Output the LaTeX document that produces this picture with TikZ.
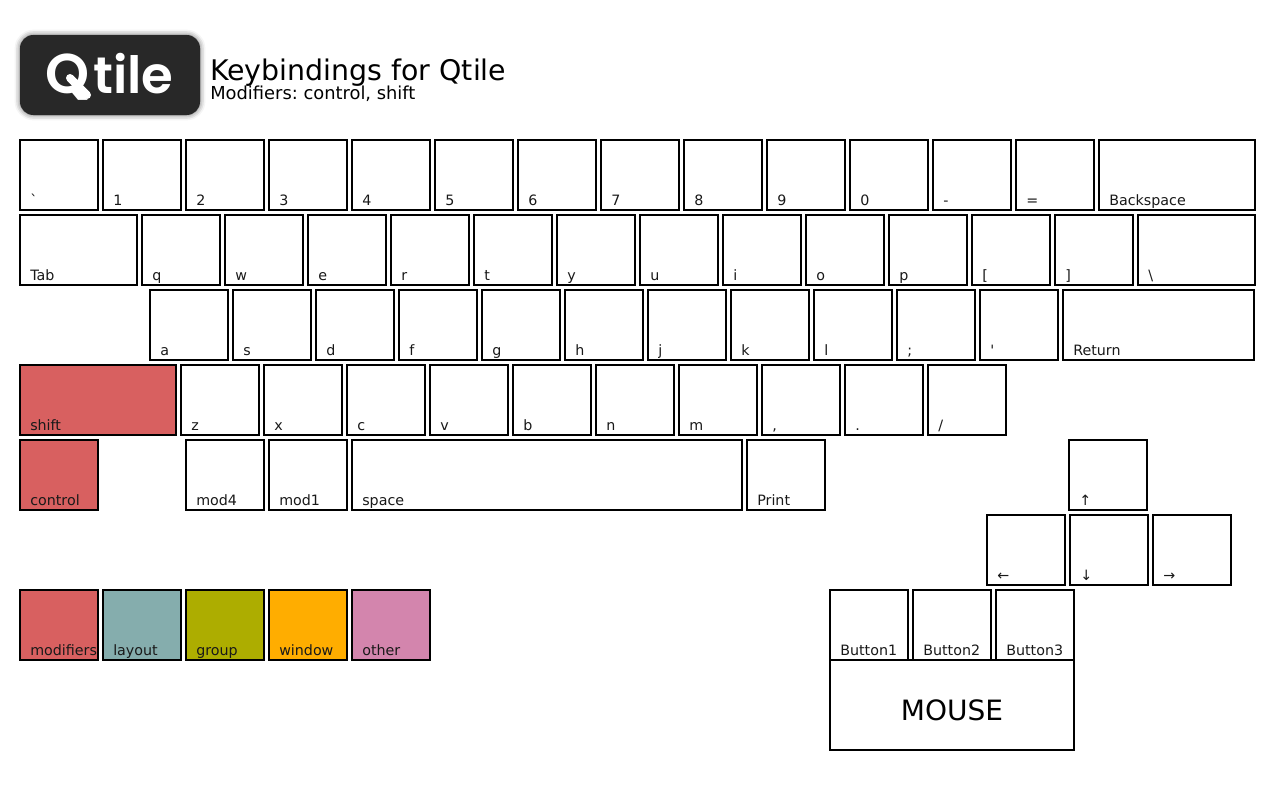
\documentclass[tikz,border=0pt]{standalone}
\usepackage{fontspec}
\setmainfont{DejaVu Sans}
\newfontfamily\rawfont{DejaVu Sans}
\newfontfamily\logofont{Poppins SemiBold}
\usetikzlibrary{shadows.blur}
\frenchspacing

\definecolor{modcol}{HTML}{D86060}
\definecolor{laycol}{HTML}{85ADAD}
\definecolor{grpcol}{HTML}{ADAD00}
\definecolor{wincol}{HTML}{FFAD00}
\definecolor{othcol}{HTML}{D385AD}
\definecolor{logocol}{HTML}{282828}

\tikzset{
    keybox/.style={draw=black, line width=1.5pt, rectangle, inner sep=0pt, outer sep=0pt, minimum height=52.5pt},
    keylabel/.style={anchor=base west, inner sep=0pt, font=\fontsize{10.7}{11}\selectfont, text=black!90},
}

% key: name, left edge, top edge, width in px, text, fill
\newcommand{\keynode}[6]{%
    \node[keybox, fill=#6, minimum width=#4*0.75pt, anchor=north west] (#1) at (#2,#3) {};
    \node[keylabel] (#1text) at ([xshift=7.5pt,yshift=3.6pt]#1.south west) {#5};
}

\begin{document}
\begin{tikzpicture}[x=0.75pt,y=-0.75pt]
    \useasboundingbox (0,0) rectangle (1280,800);

    % logo
    \node[rectangle, rounded corners=10pt, fill=logocol, minimum width=135pt, minimum height=60pt, inner sep=0pt, outer sep=0pt, anchor=north west,
        blur shadow={shadow xshift=0pt, shadow yshift=0pt, shadow blur radius=4pt, shadow opacity=60}] (logo) at (20,35) {};
    \node[anchor=base west, inner sep=0pt, text=white, font=\logofont] (logotext) at (45,93)
        {\fontsize{42}{42}\selectfont Q\kern3pt\fontsize{38.5}{42}\selectfont tile};
    \coordinate (tailstart) at (70,78);
    \coordinate (tailend) at (87,95);
    \draw[white, line width=6pt, line cap=round] (tailstart) -- (tailend);

    % title
    \node[anchor=base west, inner sep=0pt, font=\fontsize{21.3}{24}\selectfont] (title) at (210,80) {Keybindings for Qtile};
    \node[anchor=base west, inner sep=0pt, font=\fontsize{13.4}{16}\selectfont] (subtitle) at (210,99) {Modifiers: control, shift};

    % first row
    \keynode{grave}{20}{140}{78}{{\rawfont\symbol{96}}}{white}
    \foreach \name [count=\i from 0] in {1,2,3,4,5,6,7,8,9,0,-,=} {
        \pgfmathsetmacro{\keyx}{103+83*\i}
        \keynode{a\i}{\keyx}{140}{78}{\name}{white}
    }
    \keynode{backspace}{1099}{140}{156}{Backspace}{white}

    % second row
    \keynode{tab}{20}{215}{117}{Tab}{white}
    \foreach \name [count=\i from 0] in {q,w,e,r,t,y,u,i,o,p,[,]} {
        \pgfmathsetmacro{\keyx}{142+83*\i}
        \keynode{b\i}{\keyx}{215}{78}{\name}{white}
    }
    \keynode{backslash}{1138}{215}{117}{\textbackslash}{white}

    % third row
    \foreach \name [count=\i from 0] in {a,s,d,f,g,h,j,k,l,;,{\rawfont\symbol{39}}} {
        \pgfmathsetmacro{\keyx}{150+83*\i}
        \keynode{c\i}{\keyx}{290}{78}{\name}{white}
    }
    \keynode{return}{1063}{290}{191}{Return}{white}

    % fourth row
    \keynode{shift}{20}{365}{156}{shift}{modcol}
    \foreach \name [count=\i from 0] in {z,x,c,v,b,n,m,{,},.,/} {
        \pgfmathsetmacro{\keyx}{181+83*\i}
        \keynode{d\i}{\keyx}{365}{78}{\name}{white}
    }

    % fifth row
    \keynode{control}{20}{440}{78}{control}{modcol}
    \keynode{modfour}{186}{440}{78}{mod4}{white}
    \keynode{modone}{269}{440}{78}{mod1}{white}
    \keynode{space}{352}{440}{390}{space}{white}
    \keynode{print}{747}{440}{78}{Print}{white}

    % arrow keys
    \keynode{up}{1069}{440}{78}{↑}{white}
    \keynode{left}{987}{515}{78}{←}{white}
    \keynode{down}{1070}{515}{78}{↓}{white}
    \keynode{right}{1153}{515}{78}{→}{white}

    % legend
    \keynode{modifiers}{20}{590}{78}{modifiers}{modcol}
    \keynode{layout}{103}{590}{78}{layout}{laycol}
    \keynode{group}{186}{590}{78}{group}{grpcol}
    \keynode{window}{269}{590}{78}{window}{wincol}
    \keynode{other}{352}{590}{78}{other}{othcol}

    % mouse
    \keynode{btnone}{830}{590}{78}{Button1}{white}
    \keynode{btntwo}{913}{590}{78}{Button2}{white}
    \keynode{btnthree}{996}{590}{78}{Button3}{white}
    \node[keybox, fill=white, minimum width=183pt, minimum height=67.5pt, anchor=north west] (mouse) at (830,660) {};
    \node[inner sep=0pt, font=\fontsize{21}{24}\selectfont] (mousetext) at ([yshift=-3.75pt]mouse.center) {MOUSE};

\end{tikzpicture}
\end{document}
